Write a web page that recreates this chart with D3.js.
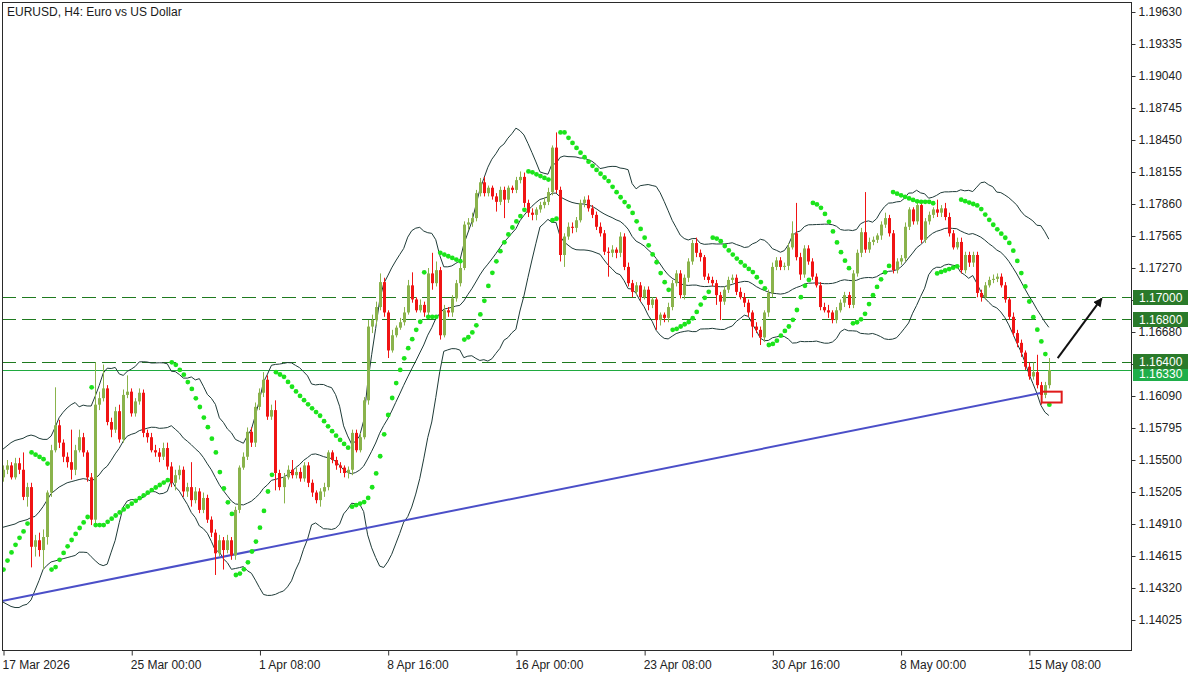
<!DOCTYPE html>
<html><head><meta charset="utf-8">
<script src="https://cdn.jsdelivr.net/npm/d3@7"></script>
<style>
html,body{margin:0;padding:0;background:#fff;}
svg{display:block;font-family:"Liberation Sans",Arial,sans-serif;}
</style></head>
<body>
<svg id="chart" width="1200" height="675"></svg>
<script>
// ---------- DATA ----------
const title = "EURUSD, H4:  Euro vs US Dollar";
const firstOpen = 1.1534;
const closes = [
1.1541,1.1545,1.1534,1.1547,1.1541,1.1516,1.1525,1.1470,1.1476,1.1467,
1.1479,1.1520,1.1559,1.1582,1.1566,1.1553,1.1548,1.1541,1.1559,1.1571,
1.1557,1.1534,1.1495,1.1601,1.1607,1.1616,1.1585,1.1578,1.1595,1.1569,
1.1610,1.1613,1.1593,1.1604,1.1612,1.1575,1.1571,1.1559,1.1557,1.1553,
1.1561,1.1544,1.1529,1.1536,1.1541,1.1521,1.1525,1.1513,1.1521,1.1504,
1.1515,1.1495,1.1483,1.1464,1.1476,1.1467,1.1476,1.1462,1.1504,1.1543,
1.1553,1.1576,1.1566,1.1599,1.1612,1.1624,1.1590,1.1596,1.1538,1.1525,
1.1534,1.1541,1.1536,1.1539,1.1533,1.1545,1.1529,1.1520,1.1513,1.1521,
1.1525,1.1557,1.1550,1.1545,1.1543,1.1538,1.1541,1.1575,1.1559,1.1571,
1.1605,1.1673,1.1679,1.1691,1.1714,1.1686,1.1651,1.1665,1.1672,1.1677,
1.1686,1.1711,1.1698,1.1688,1.1693,1.1686,1.1722,1.1713,1.1725,1.1665,
1.1688,1.1686,1.1699,1.1713,1.1727,1.1767,1.1769,1.1773,1.1796,1.1806,
1.1796,1.1801,1.1793,1.1788,1.1799,1.1790,1.1801,1.1799,1.1808,1.1811,
1.1787,1.1778,1.1776,1.1781,1.1785,1.1788,1.1797,1.1838,1.1799,1.1739,
1.1756,1.1765,1.1764,1.1771,1.1787,1.1790,1.1782,1.1776,1.1765,1.1759,
1.1742,1.1741,1.1744,1.1741,1.1756,1.1728,1.1713,1.1705,1.1711,1.1700,
1.1707,1.1693,1.1698,1.1679,1.1684,1.1681,1.1691,1.1713,1.1722,1.1702,
1.1718,1.1733,1.1750,1.1741,1.1737,1.1719,1.1716,1.1713,1.1702,1.1696,
1.1707,1.1716,1.1718,1.1705,1.1700,1.1695,1.1686,1.1673,1.1670,1.1663,
1.1686,1.1704,1.1728,1.1734,1.1728,1.1729,1.1746,1.1759,1.1737,1.1721,
1.1745,1.1733,1.1719,1.1711,1.1691,1.1688,1.1686,1.1679,1.1688,1.1695,
1.1702,1.1693,1.1722,1.1741,1.1760,1.1744,1.1751,1.1753,1.1757,1.1767,
1.1773,1.1759,1.1725,1.1733,1.1736,1.1765,1.1781,1.1770,1.1785,1.1753,
1.1770,1.1776,1.1781,1.1778,1.1782,1.1774,1.1759,1.1746,1.1751,1.1725,
1.1739,1.1732,1.1739,1.1704,1.1700,1.1711,1.1716,1.1717,1.1719,1.1711,
1.1698,1.1682,1.1667,1.1658,1.1649,1.1636,1.1627,1.1631,1.1619,1.1610,
1.1619,1.1633];
const highs = [
1.1545,1.1550,1.1548,1.1552,1.1552,1.1557,1.1529,1.1529,1.1481,1.1483,
1.1486,1.1522,1.1564,1.1617,1.1587,1.1569,1.1557,1.1578,1.1564,1.1578,
1.1575,1.1559,1.1538,1.1640,1.1613,1.1638,1.1619,1.1589,1.1599,1.1601,
1.1615,1.1628,1.1616,1.1607,1.1616,1.1615,1.1578,1.1575,1.1564,1.1561,
1.1566,1.1566,1.1548,1.1541,1.1545,1.1544,1.1529,1.1548,1.1525,1.1524,
1.1520,1.1518,1.1498,1.1486,1.1481,1.1479,1.1481,1.1479,1.1507,1.1545,
1.1557,1.1580,1.1580,1.1603,1.1616,1.1631,1.1628,1.1601,1.1605,1.1541,
1.1538,1.1545,1.1550,1.1543,1.1543,1.1548,1.1548,1.1532,1.1522,1.1524,
1.1529,1.1559,1.1559,1.1553,1.1548,1.1545,1.1544,1.1578,1.1578,1.1575,
1.1608,1.1679,1.1684,1.1696,1.1722,1.1718,1.1688,1.1670,1.1674,1.1681,
1.1691,1.1716,1.1723,1.1700,1.1698,1.1696,1.1727,1.1741,1.1733,1.1728,
1.1693,1.1691,1.1702,1.1716,1.1732,1.1770,1.1773,1.1778,1.1799,1.1810,
1.1811,1.1803,1.1803,1.1796,1.1802,1.1802,1.1803,1.1803,1.1811,1.1816,
1.1815,1.1790,1.1782,1.1783,1.1788,1.1792,1.1801,1.1840,1.1852,1.1802,
1.1759,1.1769,1.1769,1.1774,1.1790,1.1793,1.1794,1.1785,1.1779,1.1769,
1.1762,1.1746,1.1748,1.1746,1.1760,1.1759,1.1732,1.1716,1.1714,1.1714,
1.1710,1.1710,1.1700,1.1700,1.1686,1.1686,1.1695,1.1716,1.1725,1.1725,
1.1721,1.1736,1.1753,1.1755,1.1744,1.1739,1.1722,1.1719,1.1716,1.1705,
1.1710,1.1719,1.1721,1.1721,1.1709,1.1704,1.1698,1.1688,1.1677,1.1673,
1.1688,1.1707,1.1732,1.1737,1.1737,1.1732,1.1750,1.1770,1.1787,1.1741,
1.1748,1.1748,1.1736,1.1722,1.1714,1.1695,1.1693,1.1688,1.1691,1.1698,
1.1705,1.1705,1.1725,1.1744,1.1764,1.1797,1.1755,1.1756,1.1759,1.1770,
1.1778,1.1776,1.1762,1.1736,1.1739,1.1769,1.1783,1.1783,1.1788,1.1788,
1.1773,1.1779,1.1783,1.1790,1.1785,1.1787,1.1778,1.1762,1.1755,1.1755,
1.1742,1.1742,1.1742,1.1742,1.1707,1.1714,1.1719,1.1721,1.1722,1.1722,
1.1714,1.1700,1.1686,1.1670,1.1661,1.1651,1.1640,1.1640,1.1647,1.1622,
1.1622,1.1644];
const lows = [
1.1530,1.1537,1.1532,1.1532,1.1537,1.1513,1.1507,1.1451,1.1461,1.1461,
1.1449,1.1472,1.1516,1.1557,1.1561,1.1548,1.1543,1.1532,1.1536,1.1557,
1.1553,1.1530,1.1490,1.1490,1.1596,1.1604,1.1582,1.1571,1.1575,1.1566,
1.1566,1.1607,1.1590,1.1590,1.1601,1.1571,1.1566,1.1557,1.1553,1.1548,
1.1550,1.1541,1.1525,1.1522,1.1532,1.1516,1.1516,1.1507,1.1510,1.1501,
1.1501,1.1492,1.1479,1.1444,1.1461,1.1449,1.1464,1.1458,1.1458,1.1501,
1.1541,1.1550,1.1562,1.1562,1.1596,1.1608,1.1587,1.1587,1.1522,1.1522,
1.1510,1.1532,1.1533,1.1533,1.1530,1.1530,1.1525,1.1516,1.1510,1.1507,
1.1516,1.1522,1.1547,1.1541,1.1538,1.1534,1.1533,1.1536,1.1557,1.1557,
1.1569,1.1601,1.1667,1.1674,1.1688,1.1682,1.1644,1.1649,1.1663,1.1670,
1.1674,1.1684,1.1695,1.1686,1.1686,1.1682,1.1682,1.1707,1.1710,1.1661,
1.1663,1.1682,1.1682,1.1696,1.1710,1.1725,1.1762,1.1765,1.1770,1.1793,
1.1793,1.1793,1.1790,1.1779,1.1785,1.1773,1.1787,1.1796,1.1796,1.1805,
1.1783,1.1774,1.1771,1.1771,1.1778,1.1782,1.1785,1.1794,1.1796,1.1733,
1.1728,1.1753,1.1759,1.1760,1.1769,1.1783,1.1779,1.1773,1.1762,1.1756,
1.1739,1.1719,1.1737,1.1736,1.1737,1.1725,1.1710,1.1700,1.1702,1.1696,
1.1698,1.1688,1.1690,1.1670,1.1674,1.1677,1.1677,1.1688,1.1710,1.1699,
1.1698,1.1714,1.1730,1.1737,1.1733,1.1716,1.1713,1.1710,1.1693,1.1679,
1.1693,1.1704,1.1713,1.1702,1.1698,1.1691,1.1682,1.1663,1.1667,1.1656,
1.1659,1.1682,1.1700,1.1725,1.1725,1.1725,1.1725,1.1744,1.1734,1.1716,
1.1718,1.1730,1.1716,1.1709,1.1688,1.1686,1.1681,1.1676,1.1676,1.1686,
1.1691,1.1690,1.1690,1.1719,1.1737,1.1741,1.1741,1.1748,1.1750,1.1753,
1.1764,1.1756,1.1722,1.1722,1.1730,1.1733,1.1762,1.1767,1.1767,1.1750,
1.1750,1.1767,1.1773,1.1774,1.1774,1.1771,1.1756,1.1744,1.1744,1.1722,
1.1722,1.1728,1.1728,1.1700,1.1696,1.1698,1.1709,1.1713,1.1714,1.1709,
1.1695,1.1679,1.1664,1.1654,1.1645,1.1633,1.1624,1.1624,1.1616,1.1601,
1.1607,1.1616];

// Bollinger (20,2) values of the first 19 bars (history before the window)
const bbUpperHead = [1.1560,1.1563,1.1566,1.1568,1.1569,1.1570,1.1572,1.1573,1.1572,1.1570,1.1569,1.1569,1.1572,1.1580,1.1589,1.1594,1.1598,1.1601,1.1603];
const bbMiddleHead = [1.1488,1.1489,1.1490,1.1491,1.1493,1.1494,1.1495,1.1497,1.1498,1.1502,1.1507,1.1513,1.1519,1.1522,1.1525,1.1527,1.1529,1.1530,1.1531];
const bbLowerHead = [1.1419,1.1417,1.1415,1.1414,1.1414,1.1416,1.1417,1.1421,1.1430,1.1439,1.1449,1.1453,1.1456,1.1457,1.1458,1.1459,1.1460,1.1461,1.1462];
// Parabolic SAR state at the first bar (uptrend)
const sarStart = [1.1449, 1.1552, 0.08];   // [sar, extreme point, acceleration]

const priceTicks = [1.19630,1.19335,1.19040,1.18745,1.18450,1.18155,1.17860,1.17565,1.17270,1.16975,1.16680,1.16385,1.16090,1.15795,1.15500,1.15205,1.14910,1.14615,1.14320,1.14025];
const hiddenTicks = [1.16975, 1.16385];   // covered by the level tags in the reference
const timeTickIdx = [0,32,64,96,128,160,192,224,256];
const timeTickLabels = ["17 Mar 2026","25 Mar 00:00","1 Apr 08:00","8 Apr 16:00","16 Apr 00:00","23 Apr 08:00","30 Apr 16:00","8 May 00:00","15 May 08:00"];
const dashedLevels = [1.17000, 1.16800, 1.16400];
const bidLevel = 1.16330;
const trendLine = [[-0.25, 1.1420], [259.25, 1.1612]];
const arrowPts = [[263.2, 1.1644], [274.2, 1.1699]];
const markBox = [[259.2, 1.1613], [264.2, 1.1603]];

// ---------- SCALES ----------
const W = 1200, H = 675;
const plot = {l: 2, t: 2, r: 1131, b: 650};
const x = d3.scaleLinear().domain([-0.75, 281.5]).range([0, 1131]);
const y = d3.scaleLinear().domain([1.14025, 1.19630]).range([620, 12]);

const n = closes.length;
const opens = closes.map((c, i) => i === 0 ? firstOpen : closes[i - 1]);

// Bollinger bands
const bbU = [], bbM = [], bbL = [];
for (let i = 0; i < n; i++) {
  if (i < 19) { bbU.push(bbUpperHead[i]); bbM.push(bbMiddleHead[i]); bbL.push(bbLowerHead[i]); continue; }
  const w = closes.slice(i - 19, i + 1);
  const m = d3.mean(w);
  const sd = Math.sqrt(d3.mean(w, v => (v - m) * (v - m)));
  bbM.push(m); bbU.push(m + 2 * sd); bbL.push(m - 2 * sd);
}
// Parabolic SAR (0.02, 0.2)
const sar = [sarStart[0]];
let ep = sarStart[1], af = sarStart[2], up = true;
for (let i = 1; i < n; i++) {
  let s = sar[i - 1] + af * (ep - sar[i - 1]);
  if (up) {
    s = Math.min(s, lows[i - 1], lows[Math.max(0, i - 2)]);
    if (lows[i] < s) { up = false; s = ep; ep = lows[i]; af = 0.02; }
    else if (highs[i] > ep) { ep = highs[i]; af = Math.min(af + 0.02, 0.2); }
  } else {
    s = Math.max(s, highs[i - 1], highs[Math.max(0, i - 2)]);
    if (highs[i] > s) { up = true; s = ep; ep = highs[i]; af = 0.02; }
    else if (lows[i] < ep) { ep = lows[i]; af = Math.min(af + 0.02, 0.2); }
  }
  sar.push(s);
}

// ---------- DRAW ----------
const svg = d3.select("#chart");
svg.append("rect").attr("width", W).attr("height", H).attr("fill", "#fff");
svg.append("defs").append("clipPath").attr("id", "clip")
  .append("rect").attr("x", plot.l).attr("y", plot.t).attr("width", plot.r - plot.l).attr("height", plot.b - plot.t);
const g = svg.append("g").attr("clip-path", "url(#clip)");

// level lines
g.selectAll("line.lvl").data(dashedLevels).join("line")
  .attr("x1", plot.l).attr("x2", plot.r)
  .attr("y1", d => Math.round(y(d)) + 0.5).attr("y2", d => Math.round(y(d)) + 0.5)
  .attr("stroke", "#1f7a1f").attr("stroke-width", 1).attr("stroke-dasharray", "14,6");
g.append("line").attr("x1", plot.l).attr("x2", plot.r)
  .attr("y1", Math.round(y(bidLevel)) + 0.5).attr("y2", Math.round(y(bidLevel)) + 0.5)
  .attr("stroke", "#1faa3f").attr("stroke-width", 1);

// Bollinger lines
const bandLine = arr => d3.line().x((d, i) => x(i)).y(d => y(d))(arr);
[bbU, bbM, bbL].forEach(arr => g.append("path").attr("d", bandLine(arr))
  .attr("fill", "none").attr("stroke", "#1f3b38").attr("stroke-width", 1));

// trend line
g.append("line")
  .attr("x1", x(trendLine[0][0])).attr("y1", y(trendLine[0][1]))
  .attr("x2", x(trendLine[1][0])).attr("y2", y(trendLine[1][1]))
  .attr("stroke", "#4b4fc8").attr("stroke-width", 2);

// candles
const bull = "#8ab34c", bear = "#f01414";
const idx = d3.range(n);
g.selectAll("line.wick").data(idx).join("line")
  .attr("x1", i => Math.round(x(i)) + 0.5).attr("x2", i => Math.round(x(i)) + 0.5)
  .attr("y1", i => y(highs[i])).attr("y2", i => y(lows[i]))
  .attr("stroke", i => closes[i] >= opens[i] ? bull : bear).attr("stroke-width", 1);
g.selectAll("rect.body").data(idx).join("rect")
  .attr("x", i => Math.round(x(i)) - 1).attr("width", 3)
  .attr("y", i => y(Math.max(opens[i], closes[i])))
  .attr("height", i => Math.max(1, Math.abs(y(opens[i]) - y(closes[i]))))
  .attr("fill", i => closes[i] >= opens[i] ? bull : bear);

// SAR dots
g.selectAll("circle.sar").data(idx).join("circle")
  .attr("cx", i => x(i) + 0.5).attr("cy", i => y(sar[i])).attr("r", 2.4)
  .attr("fill", "#1be41b");

// mark box
g.append("rect")
  .attr("x", x(markBox[0][0])).attr("y", y(markBox[0][1]))
  .attr("width", x(markBox[1][0]) - x(markBox[0][0]))
  .attr("height", y(markBox[1][1]) - y(markBox[0][1]))
  .attr("fill", "none").attr("stroke", "#e01b1b").attr("stroke-width", 2);

// arrow
svg.append("defs").append("marker").attr("id", "ah").attr("viewBox", "0 0 10 10")
  .attr("refX", 9).attr("refY", 5).attr("markerWidth", 9).attr("markerHeight", 9)
  .attr("markerUnits", "userSpaceOnUse").attr("orient", "auto")
  .append("path").attr("d", "M0,0L10,5L0,10z").attr("fill", "#111");
g.append("line")
  .attr("x1", x(arrowPts[0][0])).attr("y1", y(arrowPts[0][1]))
  .attr("x2", x(arrowPts[1][0])).attr("y2", y(arrowPts[1][1]))
  .attr("stroke", "#111").attr("stroke-width", 2).attr("marker-end", "url(#ah)");

// frame
svg.append("rect").attr("x", plot.l + 0.5).attr("y", plot.t + 0.5)
  .attr("width", plot.r - plot.l).attr("height", plot.b - plot.t)
  .attr("fill", "none").attr("stroke", "#2a2a2a").attr("stroke-width", 1);

// title
svg.append("text").attr("x", 7).attr("y", 16).attr("font-size", 12).attr("fill", "#1a1a1a").text(title);

// price axis
const ya = svg.append("g").attr("transform", `translate(${plot.r + 0.5},0)`)
  .call(d3.axisRight(y).tickValues(priceTicks)
    .tickFormat(d => hiddenTicks.includes(d) ? "" : d3.format(".5f")(d)).tickSize(4).tickPadding(3));
ya.select(".domain").remove();
ya.selectAll("text").attr("font-size", 12).attr("font-family", "Liberation Sans, Arial, sans-serif").attr("fill", "#222");
ya.selectAll("line").attr("stroke", "#333");

// time axis
const xa = svg.append("g").attr("transform", `translate(0,${plot.b + 0.5})`)
  .call(d3.axisBottom(x).tickValues(timeTickIdx).tickFormat((d, i) => timeTickLabels[i]).tickSize(5).tickPadding(5));
xa.select(".domain").remove();
xa.selectAll("text").attr("font-size", 12).attr("font-family", "Liberation Sans, Arial, sans-serif")
  .attr("fill", "#222").attr("text-anchor", "start").attr("x", -1);
xa.selectAll("line").attr("stroke", "#333").attr("transform", "translate(0.5,0)");

// level price tags (bid tag first, the 1.16400 tag overlaps its top like in the reference)
const tags = [{v: bidLevel, c: "#1fae4a", dy: 3}, {v: 1.17000, c: "#2a7a2a", dy: 0}, {v: 1.16800, c: "#2a7a2a", dy: 0}, {v: 1.16400, c: "#2a7a2a", dy: -1}];
const tg = svg.append("g");
tags.forEach(t => {
  const yy = Math.round(y(t.v)) + t.dy;
  tg.append("rect").attr("x", plot.r + 2).attr("y", yy - 7).attr("width", 55).attr("height", 15).attr("fill", t.c);
  tg.append("text").attr("x", plot.r + 8).attr("y", yy + 4.5).attr("font-size", 12).attr("fill", "#fff")
    .text(d3.format(".5f")(t.v));
});
</script>
</body></html>
